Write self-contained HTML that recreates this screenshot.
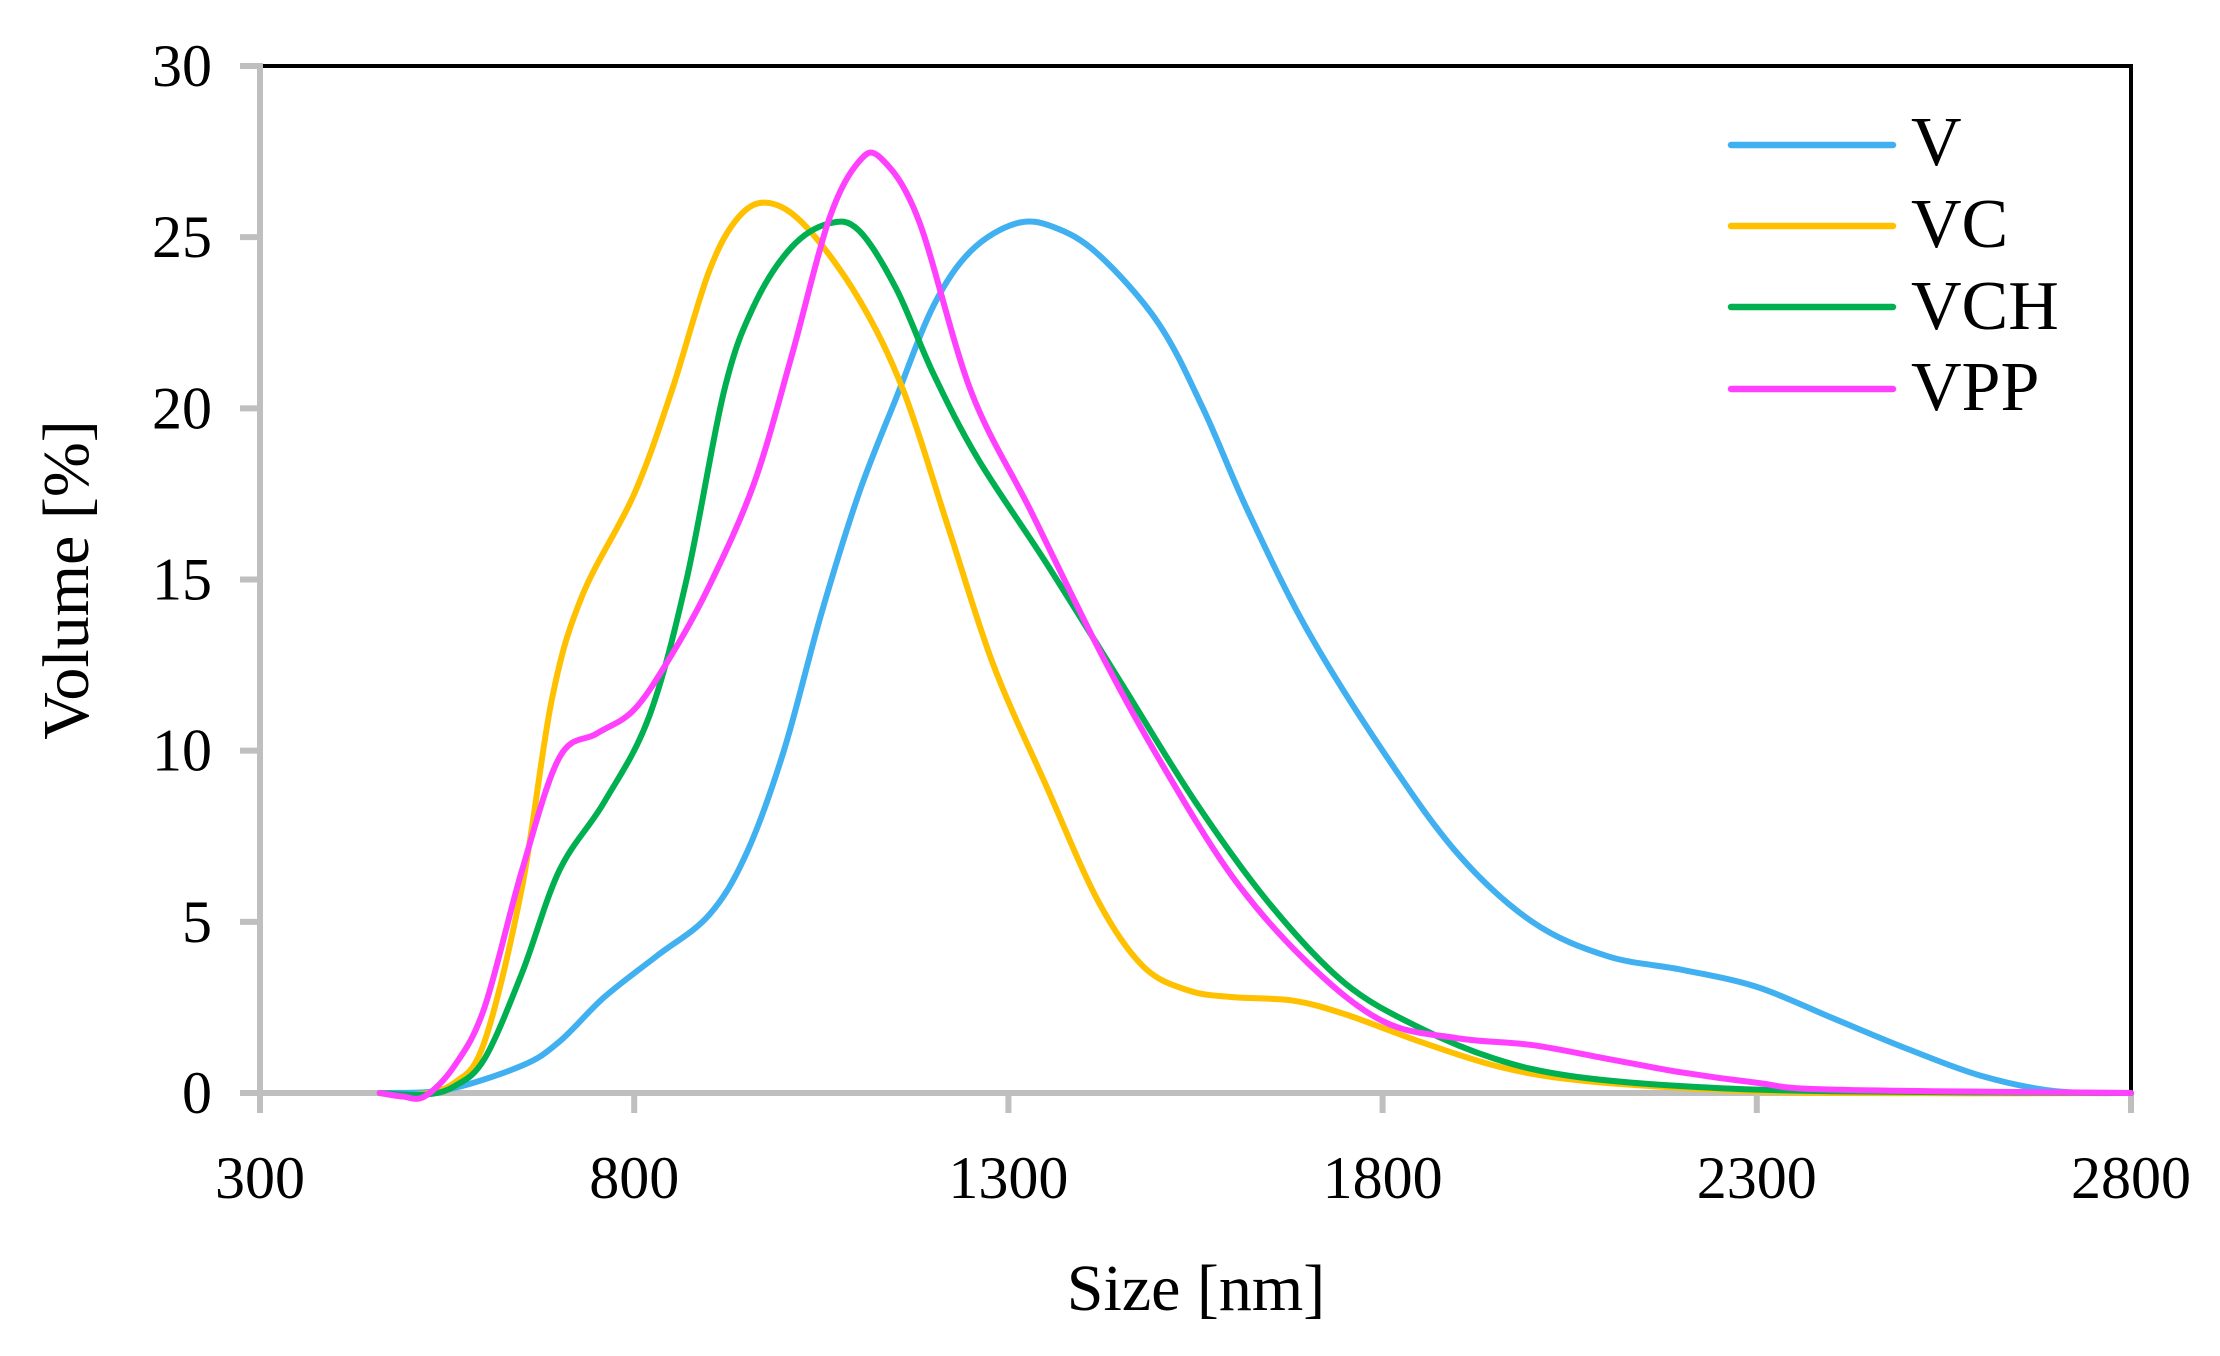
<!DOCTYPE html>
<html><head><meta charset="utf-8"><style>
html,body{margin:0;padding:0;background:#fff;}
svg{display:block;}
text{font-family:"Liberation Serif",serif;fill:#000;}
</style></head><body>
<svg id="s" width="2220" height="1356" viewBox="0 0 2220 1356">
<rect x="0" y="0" width="2220" height="1356" fill="#fff"/>
<polyline points="260,66 2131,66 2131,1093" fill="none" stroke="#000" stroke-width="4"/>
<line x1="260" y1="63" x2="260" y2="1093" stroke="#bfbfbf" stroke-width="6"/>
<line x1="240" y1="1093" x2="2131" y2="1093" stroke="#bfbfbf" stroke-width="6"/>
<g stroke="#bfbfbf" stroke-width="6" id="ticks"></g>
<g font-size="60" text-anchor="end" id="ylab"></g>
<g font-size="60" text-anchor="middle" id="xlab"></g>
<text x="1196" y="1310" font-size="66" text-anchor="middle">Size [nm]</text>
<text transform="translate(88,580) rotate(-90)" font-size="66" text-anchor="middle">Volume [%]</text>
<g id="curves" fill="none" stroke-width="6" stroke-linejoin="round" stroke-linecap="round"></g>
<g stroke-width="6.5" stroke-linecap="round">
<line x1="1731" y1="145" x2="1893" y2="145" stroke="#41b0f0"/>
<line x1="1731" y1="226" x2="1893" y2="226" stroke="#ffc000"/>
<line x1="1731" y1="307" x2="1893" y2="307" stroke="#00b050"/>
<line x1="1731" y1="389" x2="1893" y2="389" stroke="#ff40ff"/>
</g>
<g font-size="70">
<text x="1911" y="165">V</text>
<text x="1911" y="247">VC</text>
<text x="1911" y="329">VCH</text>
<text x="1911" y="410">VPP</text>
</g>
</svg>
<script>
var NS="http://www.w3.org/2000/svg";
function X(v){return 260+(v-300)*0.7484;}
function Y(v){return 1093-v*34.233;}
var t=document.getElementById('ticks'),yl=document.getElementById('ylab'),xl=document.getElementById('xlab');
for(var i=0;i<=6;i++){var y=Y(i*5);var l=document.createElementNS(NS,'line');l.setAttribute('x1',240);l.setAttribute('x2',260);l.setAttribute('y1',y);l.setAttribute('y2',y);t.appendChild(l);
var tx=document.createElementNS(NS,'text');tx.setAttribute('x',212);tx.setAttribute('y',y+20);tx.textContent=i*5;yl.appendChild(tx);}
for(var i=0;i<=5;i++){var v=300+i*500,x=X(v);var l=document.createElementNS(NS,'line');l.setAttribute('x1',x);l.setAttribute('x2',x);l.setAttribute('y1',1093);l.setAttribute('y2',1113);t.appendChild(l);
var tx=document.createElementNS(NS,'text');tx.setAttribute('x',x);tx.setAttribute('y',1198);tx.textContent=v;xl.appendChild(tx);}
var D={
"#41b0f0":[[470,0],[550,0.1],[650,0.8],[700,1.5],[760,2.8],[830,4],[900,5.2],[950,7],[1000,10],[1050,14],[1100,17.5],[1150,20.3],[1200,23],[1250,24.6],[1310,25.4],[1360,25.3],[1420,24.5],[1500,22.5],[1560,20],[1620,17],[1700,13.5],[1800,10],[1900,7],[2000,5],[2100,4],[2200,3.6],[2300,3.1],[2400,2.2],[2500,1.3],[2600,0.5],[2700,0.05],[2800,0]],
"#ffc000":[[460,0],[510,-0.05],[560,0.3],[600,1.5],[650,6],[690,11.5],[730,14.5],[800,17.5],[850,20.5],[900,24],[940,25.6],[980,26],[1030,25.3],[1100,23.2],[1160,20.5],[1220,16.5],[1280,12.5],[1350,9],[1420,5.6],[1480,3.7],[1540,3],[1600,2.8],[1680,2.7],[1750,2.3],[1850,1.5],[1950,0.8],[2050,0.4],[2200,0.15],[2400,0],[2800,0]],
"#00b050":[[460,0],[520,-0.05],[560,0.2],[600,1.0],[650,3.5],[700,6.5],[760,8.5],[820,11],[870,15],[920,20.5],[960,23],[1010,24.7],[1060,25.4],[1100,25.2],[1150,23.5],[1200,21],[1260,18.5],[1350,15.5],[1450,12],[1550,8.5],[1650,5.5],[1750,3.2],[1850,1.9],[1950,1.0],[2050,0.5],[2200,0.2],[2400,0.05],[2800,0]],
"#ff40ff":[[460,0],[490,-0.1],[520,-0.1],[560,0.8],[600,2.5],[650,6.5],[700,9.8],[750,10.5],[800,11.2],[850,12.8],[900,14.8],[960,17.8],[1010,21.5],[1060,25.5],[1100,27.2],[1130,27.3],[1180,25.5],[1250,20.5],[1330,17],[1420,13],[1500,9.8],[1600,6.3],[1700,3.8],[1800,2.1],[1900,1.6],[2000,1.4],[2100,1.0],[2200,0.6],[2300,0.3],[2400,0.1],[2800,0]]};
var g=document.getElementById('curves');
for(var c in D){var p=D[c].map(function(a){return [X(a[0]),Y(a[1])];});
var d="M"+p[0][0]+","+p[0][1];
for(var i=0;i<p.length-1;i++){var p0=p[i-1]||p[i],p1=p[i],p2=p[i+1],p3=p[i+2]||p2;
d+="C"+(p1[0]+(p2[0]-p0[0])/6)+","+(p1[1]+(p2[1]-p0[1])/6)+" "+(p2[0]-(p3[0]-p1[0])/6)+","+(p2[1]-(p3[1]-p1[1])/6)+" "+p2[0]+","+p2[1];}
var e=document.createElementNS(NS,'path');e.setAttribute('d',d);e.setAttribute('stroke',c);g.appendChild(e);}
</script>
</body></html>
